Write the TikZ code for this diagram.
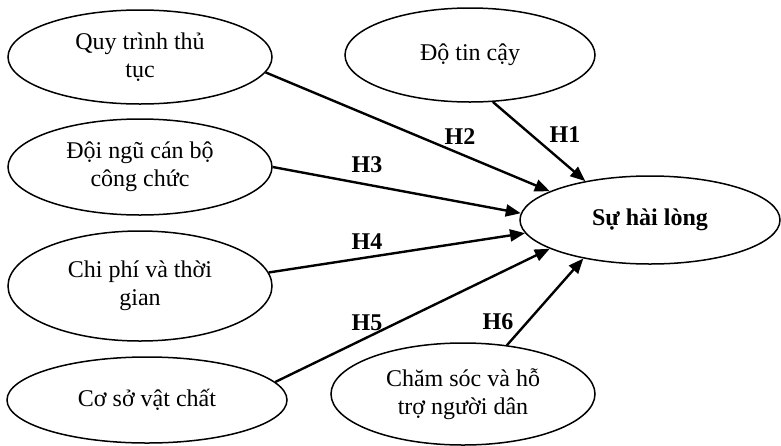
\documentclass[tikz,border=0pt]{standalone}
\usepackage{fontspec}
\setmainfont{Liberation Serif}
\usetikzlibrary{shapes.geometric,arrows.meta}
\begin{document}
\begin{tikzpicture}[x=0.5pt,y=-0.5pt,
  factor/.style={draw,ellipse,line width=0.75pt,inner sep=0pt,align=center,font=\fontsize{12}{14}\selectfont},
  link/.style={line width=1.2pt,-{Triangle[length=7.5pt,width=6pt]}},
  hlabel/.style={font=\fontsize{12}{14}\selectfont\bfseries,inner sep=0pt}]
\useasboundingbox (0,0) rectangle (781,445);
\node[factor,minimum width=132pt,minimum height=47pt] (qt) at (140,57) {Quy trình thủ\\tục};
\node[factor,minimum width=132pt,minimum height=48pt] (dn) at (140,167) {Đội ngũ cán bộ\\công chức};
\node[factor,minimum width=132pt,minimum height=55pt] (cp) at (140,286) {Chi phí và thời\\gian};
\node[factor,minimum width=140pt,minimum height=43pt] (cs) at (147,400) {Cơ sở vật chất};
\node[factor,minimum width=125pt,minimum height=47pt] (dt) at (470,55) {Độ tin cậy};
\node[factor,minimum width=130pt,minimum height=44pt,font=\fontsize{12}{14}\selectfont\bfseries] (sh) at (650,220) {Sự hài lòng};
\node[factor,minimum width=132pt,minimum height=51pt] (ch) at (463,394) {Chăm sóc và hỗ\\trợ người dân};
\draw[link] (qt.-7) -- (sh.164);
\draw[link] (dt.-64) -- (sh.149);
\draw[link] (dn.0) -- (sh.177);
\draw[link] (cp.6) -- (sh.186);
\draw[link] (cs.8) -- (sh.196);
\draw[link] (ch.48) -- (sh.210);
\node[hlabel] (h2) at (460,137) {H2};
\node[hlabel] (h1) at (565,135) {H1};
\node[hlabel] (h3) at (367,165) {H3};
\node[hlabel] (h4) at (367,242) {H4};
\node[hlabel] (h5) at (367,323) {H5};
\node[hlabel] (h6) at (498,322) {H6};
\end{tikzpicture}
\end{document}
